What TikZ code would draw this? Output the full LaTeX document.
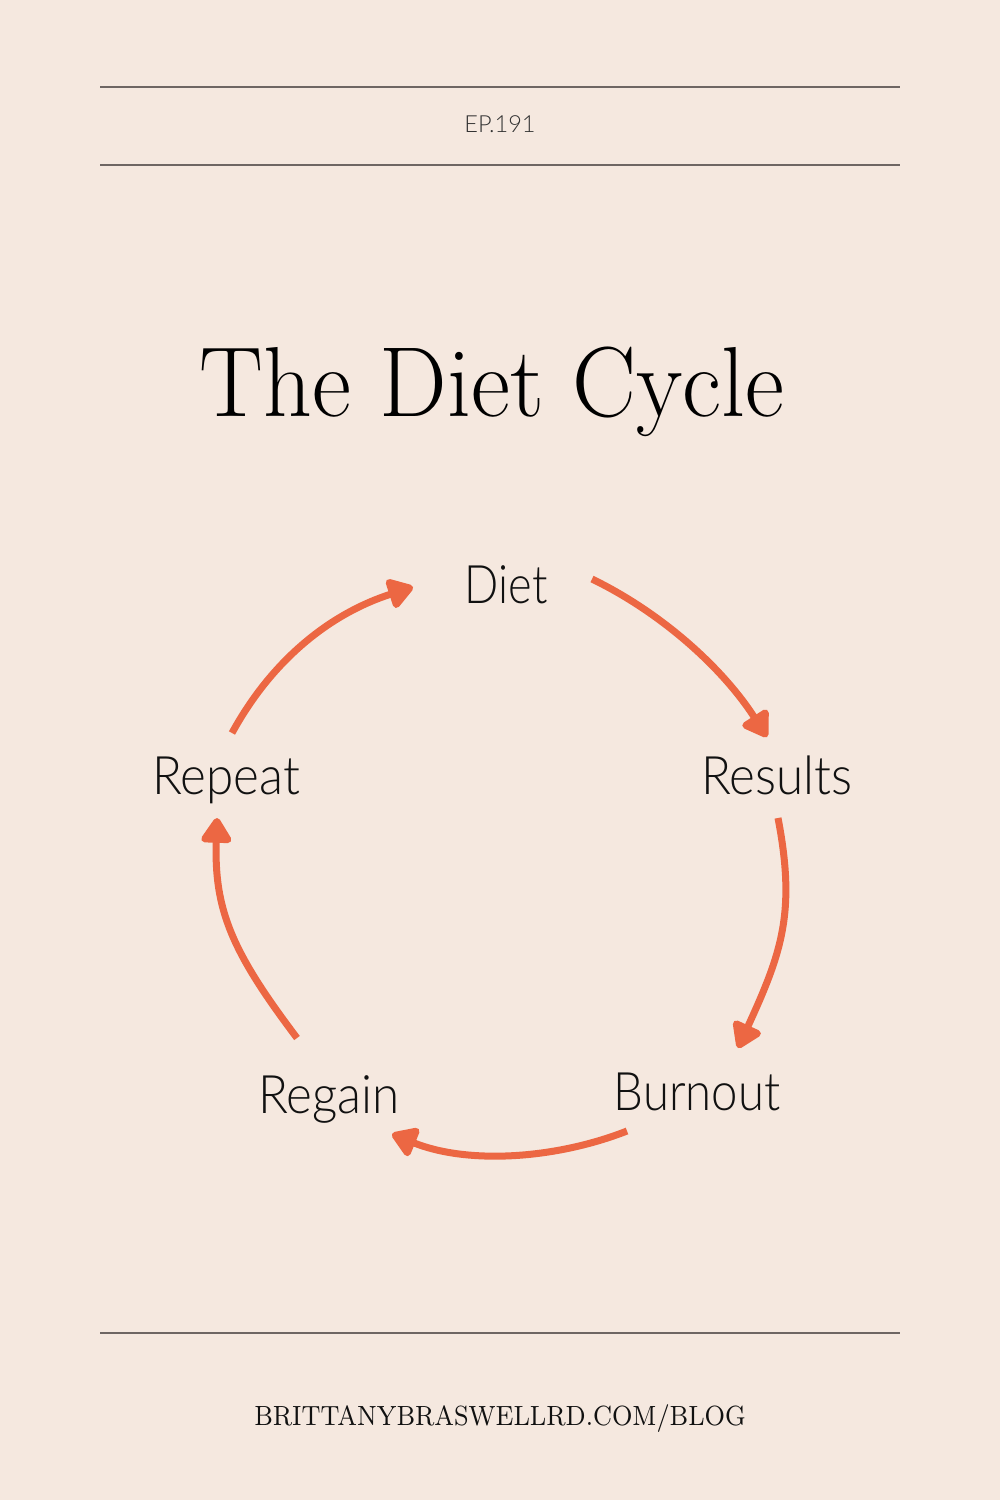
\documentclass[tikz,border=0pt]{standalone}
\usepackage{fontspec}
\usetikzlibrary{arrows.meta}
\newfontfamily\labfont{Lato Light}
\definecolor{bgc}{HTML}{F5E8DF}
\definecolor{arrc}{HTML}{EC6743}
\definecolor{rulec}{HTML}{6E6663}
\definecolor{txtc}{HTML}{111111}
\definecolor{epc}{HTML}{333333}
\tikzset{
  lab/.style={anchor=base, inner sep=0pt, text=txtc, font=\labfont\fontsize{15.1}{16}\selectfont},
  cyc/.style={draw=arrc, line width=0.7mm, -{Triangle[length=2.8mm,width=3.4mm,round]}},
  rulestyle/.style={draw=rulec, line width=0.15mm}
}
\begin{document}
\begin{tikzpicture}[x=0.01cm,y=-0.01cm]
\fill[bgc] (0,0) rectangle (1000,1500);
\useasboundingbox (0,0) rectangle (1000,1500);
% rules
\coordinate (r1a) at (100,87);  \coordinate (r1b) at (900,87);
\coordinate (r2a) at (100,165); \coordinate (r2b) at (900,165);
\coordinate (r3a) at (100,1333); \coordinate (r3b) at (900,1333);
\draw[rulestyle] (r1a) -- (r1b);
\draw[rulestyle] (r2a) -- (r2b);
\draw[rulestyle] (r3a) -- (r3b);
% texts
\node[anchor=base, inner sep=0pt, text=epc, font=\labfont\fontsize{6.7}{8}\selectfont] (ep) at (500,133) {EP.191};
\node[anchor=base, inner sep=0pt, text=black, font=\fontsize{28.3}{30}\selectfont] (title) at (492,416) {\scalebox{0.96}[1]{The Diet Cycle}};
\node[lab] (diet) at (506,603) {\scalebox{0.85}[1]{Diet}};
\node[lab] (results) at (777,794) {\scalebox{0.93}[1]{Results}};
\node[lab] (repeat) at (226,794) {\scalebox{0.93}[1]{Repeat}};
\node[lab] (burnout) at (697,1110) {\scalebox{0.89}[1]{Burnout}};
\node[lab] (regain) at (329,1113) {\scalebox{0.93}[1]{Regain}};
\node[anchor=base, inner sep=0pt, text=txtc, font=\fontsize{7.9}{9}\selectfont] (url) at (500,1425) {\scalebox{0.89}[1]{BRITTANYBRASWELLRD.COM/BLOG}};
% arrow endpoints
\coordinate (a1s) at (592,579); \coordinate (a1e) at (767,737);
\coordinate (a2s) at (778,818); \coordinate (a2e) at (738,1048);
\coordinate (a3s) at (627,1131); \coordinate (a3e) at (392,1134);
\coordinate (a4s) at (297,1038); \coordinate (a4e) at (217,818);
\coordinate (a5s) at (232,733); \coordinate (a5e) at (413,587);
\draw[cyc] (a1s) .. controls (664,614) and (724,670) .. (a1e);
\draw[cyc] (a2s) .. controls (796,912) and (782,952) .. (a2e);
\draw[cyc] (a3s) .. controls (553,1160) and (466,1164) .. (a3e);
\draw[cyc] (a4s) .. controls (232,952) and (214,910) .. (a4e);
\draw[cyc] (a5s) .. controls (273,658) and (332,613) .. (a5e);
\end{tikzpicture}
\end{document}
